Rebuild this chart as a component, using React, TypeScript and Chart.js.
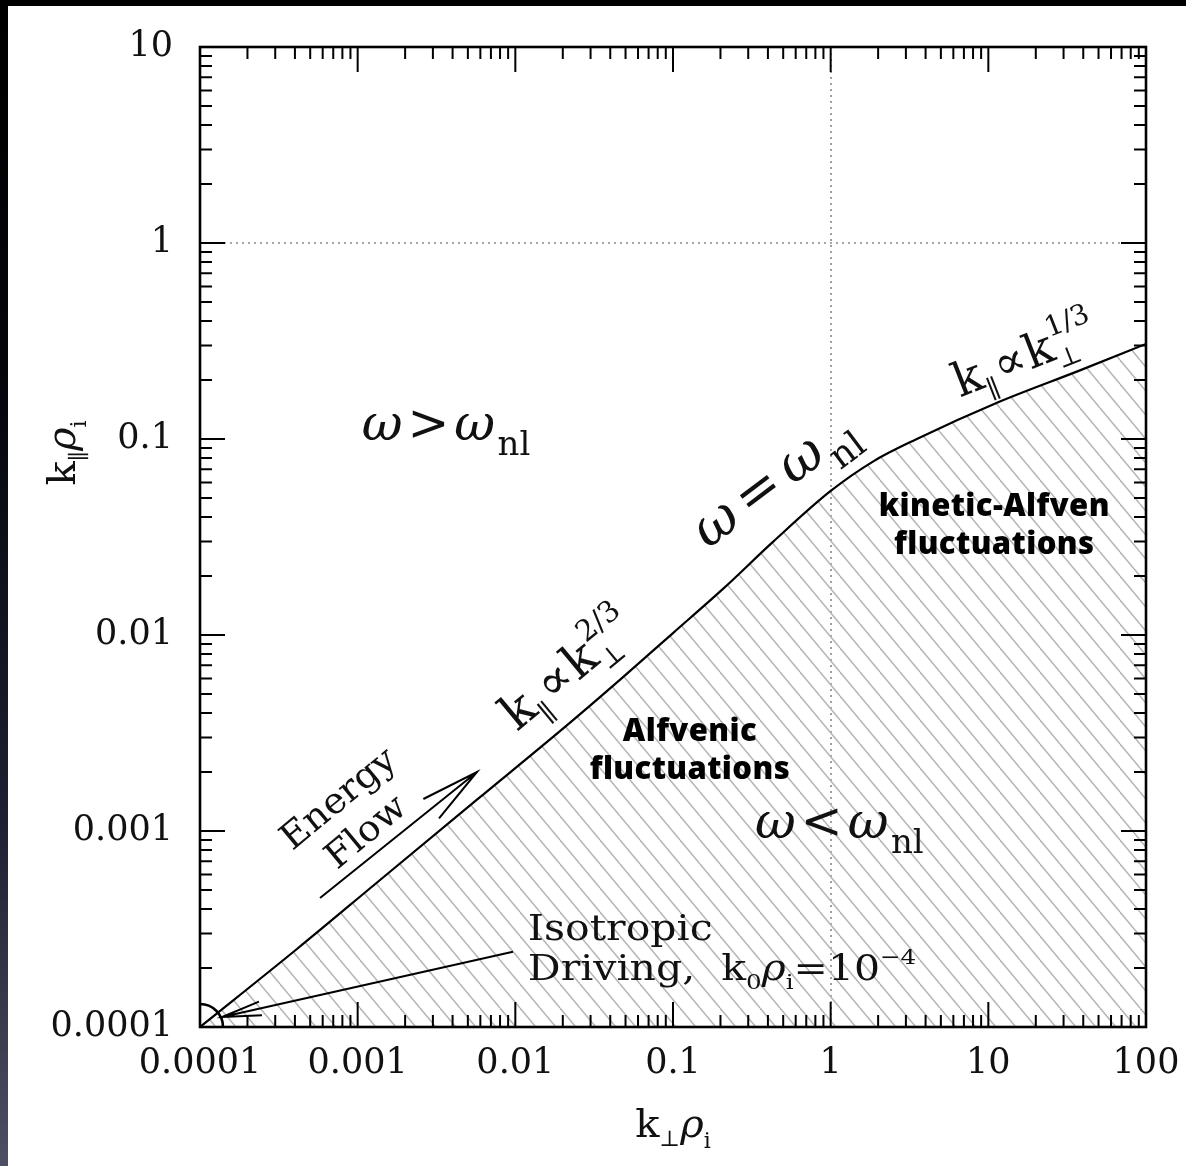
import React, { useEffect, useRef } from "react";
import { Chart, registerables } from "chart.js";

Chart.register(...registerables);

// ---------- data ----------
const kPerp = [0.0001, 0.000412, 0.001327, 0.00571, 0.0213, 0.0482, 0.1, 0.2075, 0.4305, 1.0, 1.854, 3.52, 11.35, 38.1, 100];
const kPar = [0.0001, 0.00025, 0.000546, 0.001445, 0.00347, 0.0061, 0.01023, 0.01718, 0.02985, 0.0543, 0.0767, 0.1, 0.1531, 0.2239, 0.3055];

const xTicks = [0.0001, 0.001, 0.01, 0.1, 1, 10, 100];
const xTickLabels = ["0.0001", "0.001", "0.01", "0.1", "1", "10", "100"];
const yTicks = [0.0001, 0.001, 0.01, 0.1, 1, 10];
const yTickLabels = ["0.0001", "0.001", "0.01", "0.1", "1", "10"];
const minorMultipliers = [2, 3, 4, 5, 6, 7, 8, 9];
const refLinesX = [1];
const refLinesY = [1];

// ---------- styling ----------
const SERIF = '"DejaVu Serif", "Liberation Serif", serif';
const SANS = '"Open Sans", Lato, sans-serif';
const INK = "#111";

type Part = { t: string; s?: number; dy?: number; it?: boolean; adv?: boolean; gap?: number };

const fontOf = (p: Part, size: number) =>
  `${p.it ? "italic " : ""}${(size * (p.s ?? 1)).toFixed(1)}px ${SERIF}`;

function partsWidth(ctx: CanvasRenderingContext2D, parts: Part[], size: number) {
  let x = 0;
  for (const p of parts) {
    ctx.font = fontOf(p, size);
    const w = ctx.measureText(p.t).width;
    if (p.adv !== false) x += w + (p.gap ?? 0) * size;
  }
  return x;
}
function drawParts(ctx: CanvasRenderingContext2D, parts: Part[], size: number, x0: number, y0: number) {
  let x = x0;
  for (const p of parts) {
    ctx.font = fontOf(p, size);
    ctx.fillText(p.t, x, y0 + (p.dy ?? 0) * size);
    const w = ctx.measureText(p.t).width;
    if (p.adv !== false) x += w + (p.gap ?? 0) * size;
  }
}

const omegaRel = (rel: string, g: number): Part[] => [
  { t: "ω", it: true, gap: g },
  { t: rel, gap: g },
  { t: "ω", it: true, gap: 0.05 },
  { t: "nl", s: 0.68, dy: 0.3 },
];
const kScaling = (exp: string): Part[] => [
  { t: "k" },
  { t: "∥", s: 0.55, dy: 0.28, gap: 0.06 },
  { t: "∝", gap: 0.03 },
  { t: "k" },
  { t: "⊥", s: 0.55, dy: 0.22, adv: false },
  { t: exp, s: 0.6, dy: -0.5 },
];
const yTitleParts: Part[] = [{ t: "k" }, { t: "∥", s: 0.55, dy: 0.28 }, { t: "ρ", it: true }, { t: "i", s: 0.55, dy: 0.28 }];
const xTitleParts: Part[] = [{ t: "k" }, { t: "⊥", s: 0.55, dy: 0.22 }, { t: "ρ", it: true }, { t: "i", s: 0.55, dy: 0.28 }];
const drivingParts: Part[] = [
  { t: "Driving,  k" },
  { t: "0", s: 0.6, dy: 0.25 },
  { t: "ρ", it: true },
  { t: "i", s: 0.6, dy: 0.25 },
  { t: "=10" },
  { t: "−4", s: 0.6, dy: -0.45 },
];

// annotation anchors in data coordinates
const mathLabels = [
  { x: 1.06e-3, y: 0.099, angle: 0, size: 50, parts: omegaRel(">", 0.1) },
  { x: 0.331, y: 9.2e-4, angle: 0, size: 50, parts: omegaRel("<", 0.1) },
  { x: 0.1667, y: 0.0272, angle: -37, size: 54, parts: omegaRel("=", 0.16) },
  { x: 0.01026, y: 3.2e-3, angle: -39.6, size: 49, parts: kScaling("2/3") },
  { x: 6.6, y: 0.163, angle: -21.4, size: 47, parts: kScaling("1/3") },
];
const boldLabels = [
  { x: 0.128, y: 3.2e-3, text: "Alfvenic" },
  { x: 0.128, y: 2.05e-3, text: "fluctuations" },
  { x: 10.9, y: 0.045, text: "kinetic-Alfven" },
  { x: 10.9, y: 0.0288, text: "fluctuations" },
];
const energyLabel = { x: 9.33e-4, y: 1.19e-3, angle: -39.6, lines: ["Energy", "Flow"] };
const energyArrow = { from: [5.77e-4, 4.55e-4], to: [5.71e-3, 2.0e-3] };
const isoLabel = { x: 0.012, y1: 2.78e-4, y2: 1.74e-4 };
const isoArrow = { from: [9.66e-3, 2.42e-4], to: [1.38e-4, 1.125e-4] };
const drivingPoint = [1e-4, 1e-4];

function makeHatch(): CanvasPattern | string {
  const W = 20, H = 24;
  const c = document.createElement("canvas");
  c.width = W;
  c.height = H;
  const g = c.getContext("2d");
  if (!g) return "rgba(0,0,0,0)";
  g.strokeStyle = "#b6b6b6";
  g.lineWidth = 1.5;
  for (const off of [-W, 0, W]) {
    g.beginPath();
    g.moveTo(off, 0);
    g.lineTo(off + W, H);
    g.stroke();
  }
  return g.createPattern(c, "repeat") || "rgba(0,0,0,0)";
}

function arrow(ctx: CanvasRenderingContext2D, x1: number, y1: number, x2: number, y2: number, head: number, half: number) {
  ctx.beginPath();
  ctx.moveTo(x1, y1);
  ctx.lineTo(x2, y2);
  const a = Math.atan2(y1 - y2, x1 - x2);
  const r = (half * Math.PI) / 180;
  ctx.moveTo(x2 + head * Math.cos(a + r), y2 + head * Math.sin(a + r));
  ctx.lineTo(x2, y2);
  ctx.lineTo(x2 + head * Math.cos(a - r), y2 + head * Math.sin(a - r));
  ctx.stroke();
}

const decor = {
  id: "decor",
  beforeDatasetsDraw(chart: any) {
    const { ctx, chartArea: ca } = chart;
    const xs = chart.scales.x, ys = chart.scales.y;
    ctx.save();
    ctx.strokeStyle = "#8a8a8a";
    ctx.lineWidth = 1.6;
    ctx.setLineDash([2, 4]);
    for (const v of refLinesX) {
      const px = Math.round(xs.getPixelForValue(v));
      ctx.beginPath();
      ctx.moveTo(px, ca.top);
      ctx.lineTo(px, ca.bottom);
      ctx.stroke();
    }
    for (const v of refLinesY) {
      const py = Math.round(ys.getPixelForValue(v));
      ctx.beginPath();
      ctx.moveTo(ca.left, py);
      ctx.lineTo(ca.right, py);
      ctx.stroke();
    }
    ctx.restore();
  },
  afterDatasetsDraw(chart: any) {
    const { ctx, chartArea: ca } = chart;
    const xs = chart.scales.x, ys = chart.scales.y;
    const P = (x: number, y: number) => [xs.getPixelForValue(x), ys.getPixelForValue(y)];
    ctx.save();
    ctx.strokeStyle = "#000";
    ctx.fillStyle = INK;

    // tick marks on all four sides, pointing inward
    ctx.lineWidth = 2;
    const xMax = xTicks[xTicks.length - 1], yMax = yTicks[yTicks.length - 1];
    for (const d of xTicks) {
      for (const m of [1, ...minorMultipliers]) {
        const v = d * m;
        if (v > xMax * 1.0001) continue;
        const px = xs.getPixelForValue(v);
        const len = m === 1 ? 25 : 12;
        ctx.beginPath();
        ctx.moveTo(px, ca.bottom);
        ctx.lineTo(px, ca.bottom - len);
        ctx.moveTo(px, ca.top);
        ctx.lineTo(px, ca.top + len);
        ctx.stroke();
      }
    }
    for (const d of yTicks) {
      for (const m of [1, ...minorMultipliers]) {
        const v = d * m;
        if (v > yMax * 1.0001) continue;
        const py = ys.getPixelForValue(v);
        const len = m === 1 ? 25 : 12;
        ctx.beginPath();
        ctx.moveTo(ca.left, py);
        ctx.lineTo(ca.left + len, py);
        ctx.moveTo(ca.right, py);
        ctx.lineTo(ca.right - len, py);
        ctx.stroke();
      }
    }
    // frame
    ctx.lineWidth = 2.6;
    ctx.strokeRect(ca.left, ca.top, ca.right - ca.left, ca.bottom - ca.top);

    // driving-scale marker at origin
    const [ox, oy] = P(drivingPoint[0], drivingPoint[1]);
    ctx.lineWidth = 2.6;
    ctx.beginPath();
    ctx.arc(ox, oy, 23, -Math.PI / 2, 0);
    ctx.stroke();

    // arrows
    ctx.lineWidth = 2;
    {
      const [a, b] = P(energyArrow.from[0], energyArrow.from[1]);
      const [c, d] = P(energyArrow.to[0], energyArrow.to[1]);
      arrow(ctx, a, b, c, d, 60, 12);
    }
    {
      const [a, b] = P(isoArrow.from[0], isoArrow.from[1]);
      const [c, d] = P(isoArrow.to[0], isoArrow.to[1]);
      arrow(ctx, a, b, c, d, 40, 10);
    }

    // math labels
    ctx.textAlign = "left";
    ctx.textBaseline = "alphabetic";
    for (const L of mathLabels) {
      const [x, y] = P(L.x, L.y);
      ctx.save();
      ctx.translate(x, y);
      ctx.rotate((L.angle * Math.PI) / 180);
      drawParts(ctx, L.parts, L.size, 0, 0);
      ctx.restore();
    }

    // Energy / Flow
    {
      const [x, y] = P(energyLabel.x, energyLabel.y);
      ctx.save();
      ctx.translate(x, y);
      ctx.rotate((energyLabel.angle * Math.PI) / 180);
      ctx.scale(1.05, 1);
      ctx.textAlign = "center";
      ctx.textBaseline = "middle";
      ctx.font = `36px ${SERIF}`;
      ctx.fillText(energyLabel.lines[0], 0, -21);
      ctx.fillText(energyLabel.lines[1], 0, 22);
      ctx.restore();
    }

    // Isotropic driving (the reference face is wider than DejaVu Serif)
    {
      const [x, y1] = P(isoLabel.x, isoLabel.y1);
      const [, y2] = P(isoLabel.x, isoLabel.y2);
      ctx.save();
      ctx.translate(x, 0);
      ctx.scale(1.17, 1);
      ctx.textAlign = "left";
      ctx.textBaseline = "alphabetic";
      drawParts(ctx, [{ t: "Isotropic" }], 35, 0, y1);
      drawParts(ctx, drivingParts, 35, 0, y2);
      ctx.restore();
    }

    // bold region labels
    ctx.save();
    ctx.textAlign = "center";
    ctx.textBaseline = "middle";
    ctx.fillStyle = "#000";
    ctx.font = `800 31px ${SANS}`;
    try {
      (ctx as any).letterSpacing = "0.4px";
    } catch (e) {}
    for (const B of boldLabels) {
      const [x, y] = P(B.x, B.y);
      ctx.fillText(B.text, x, y);
    }
    ctx.restore();

    // axis titles
    ctx.fillStyle = INK;
    ctx.textAlign = "left";
    ctx.textBaseline = "alphabetic";
    {
      const w = partsWidth(ctx, xTitleParts, 40);
      const cx = (ca.left + ca.right) / 2;
      drawParts(ctx, xTitleParts, 40, cx - w / 2, ca.bottom + 110);
    }
    {
      const w = partsWidth(ctx, yTitleParts, 40);
      ctx.save();
      ctx.translate(ca.left - 125, ca.top + 406);
      ctx.rotate(-Math.PI / 2);
      drawParts(ctx, yTitleParts, 40, -w / 2, 0);
      ctx.restore();
    }
    ctx.restore();
  },
};

export default function App() {
  const ref = useRef<HTMLCanvasElement | null>(null);
  useEffect(() => {
    if (!ref.current) return;
    const chart = new Chart(ref.current, {
      type: "line",
      data: {
        datasets: [
          {
            data: kPerp.map((x, i) => ({ x, y: kPar[i] })),
            borderColor: "#000",
            borderWidth: 2.2,
            pointRadius: 0,
            fill: "start",
            backgroundColor: makeHatch() as any,
            cubicInterpolationMode: "monotone",
          },
        ],
      },
      options: {
        responsive: false,
        animation: false,
        devicePixelRatio: 1,
        layout: { padding: { top: 47, right: 40, left: 0, bottom: 0 } },
        plugins: { legend: { display: false }, tooltip: { enabled: false }, title: { display: false } },
        scales: {
          x: {
            type: "logarithmic",
            min: xTicks[0],
            max: xTicks[xTicks.length - 1],
            grid: { display: false, drawTicks: false },
            border: { display: false },
            afterBuildTicks: (s: any) => {
              s.ticks = xTicks.map((v) => ({ value: v }));
            },
            afterFit: (s: any) => {
              s.height = 139;
              s.paddingLeft = 0;
              s.paddingRight = 0;
            },
            ticks: {
              autoSkip: false,
              maxRotation: 0,
              minRotation: 0,
              padding: 16,
              color: INK,
              font: { family: SERIF, size: 35 },
              callback: (_v: any, i: number) => xTickLabels[i],
            },
          },
          y: {
            type: "logarithmic",
            min: yTicks[0],
            max: yTicks[yTicks.length - 1],
            grid: { display: false, drawTicks: false },
            border: { display: false },
            afterBuildTicks: (s: any) => {
              s.ticks = yTicks.map((v) => ({ value: v }));
            },
            afterFit: (s: any) => {
              s.width = 200;
              s.paddingTop = 0;
              s.paddingBottom = 0;
            },
            ticks: {
              autoSkip: false,
              padding: 27,
              color: INK,
              font: { family: SERIF, size: 35 },
              callback: (_v: any, i: number) => yTickLabels[i],
            },
          },
        },
      } as any,
      plugins: [decor],
    });
    return () => chart.destroy();
  }, []);

  return (
    <div style={{ position: "fixed", left: 0, top: 0, width: 1186, height: 1166, background: "#000", overflow: "hidden" }}>
      <div
        style={{
          position: "absolute",
          left: 0,
          top: 6,
          width: 8,
          bottom: 0,
          background: "linear-gradient(to bottom, #000 0%, #06070e 35%, #1d2031 70%, #4d5064 100%)",
        }}
      />
      <div style={{ position: "absolute", left: 8, top: 6, right: 0, bottom: 0, background: "#fff" }} />
      <canvas ref={ref} width={1186} height={1166} style={{ position: "absolute", left: 0, top: 0, width: 1186, height: 1166 }} />
    </div>
  );
}
